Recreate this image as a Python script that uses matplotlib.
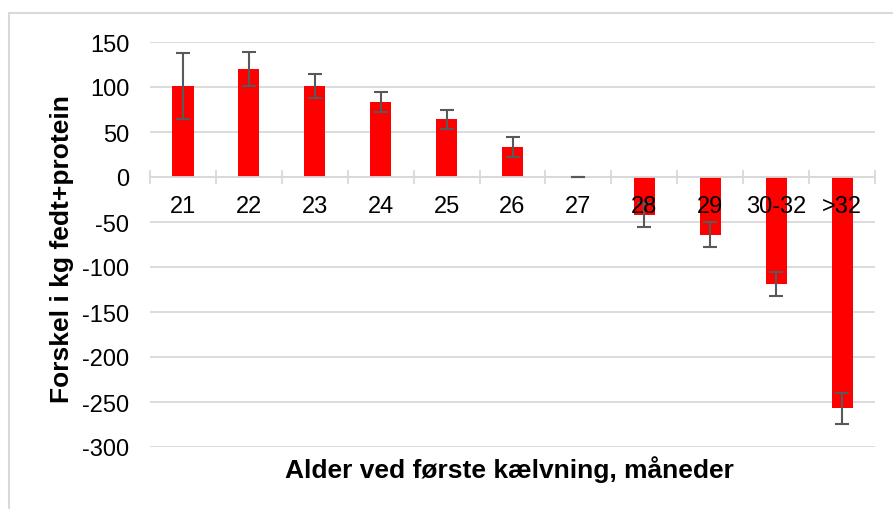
import matplotlib.pyplot as plt
from matplotlib.lines import Line2D
import numpy as np

categories = ["21", "22", "23", "24", "25", "26", "27", "28", "29", "30-32", ">32"]
values = [101, 120, 101, 83, 64, 33, 0, -42, -64, -119, -257]
errors = [37, 19, 13, 11, 11, 11, 0, 13, 14, 13, 17]
y_ticks = [150, 100, 50, 0, -50, -100, -150, -200, -250, -300]

plt.rcParams['font.family'] = ['Liberation Sans', 'DejaVu Sans']

fig = plt.figure(figsize=(8.93, 5.10), dpi=100)
ax = fig.add_axes([150 / 893, 1 - 448 / 510, 725 / 893, 405 / 510])

x = np.arange(len(categories))
ax.bar(x, values, width=0.32, color="#ff0000", zorder=2)
ax.errorbar(x, values, yerr=errors, fmt="none", ecolor="#595959",
            elinewidth=1.5, capsize=5, capthick=1.5, zorder=3)

ax.set_xlim(-0.5, len(categories) - 0.5)
ax.set_ylim(-300, 150)
ax.set_yticks(y_ticks)
ax.set_yticklabels([str(v) for v in y_ticks])
ax.tick_params(axis='y', length=0, pad=15, labelsize=17)

ax.grid(axis='y', color='#d9d9d9', linewidth=1.3)
ax.set_axisbelow(True)
for side in ['top', 'right', 'left']:
    ax.spines[side].set_visible(False)
ax.spines['bottom'].set_position(('data', 0))
ax.spines['bottom'].set_color('#d9d9d9')
ax.spines['bottom'].set_linewidth(1.3)

ax.set_xticks(x)
ax.set_xticklabels([])
ax.set_xticks(np.arange(len(categories) + 1) - 0.5, minor=True)
ax.tick_params(axis='x', which='major', length=0)
ax.tick_params(axis='x', which='minor', direction='inout', length=9.5,
               width=1.3, color='#d9d9d9')

for i, lab in enumerate(categories):
    ax.annotate(lab, xy=(i, 0), xytext=(0, -13), textcoords='offset points',
                ha='center', va='top', fontsize=17, zorder=4)

fig.text(62 / 893, 1 - 249 / 510, "Forskel i kg fedt+protein", rotation=90,
         ha='center', va='center', fontsize=19, fontweight='bold')
fig.text(509 / 893, 1 - 470 / 510, "Alder ved første kælvning, måneder",
         ha='center', va='center', fontsize=19, fontweight='bold')

# chart frame
fig.add_artist(Line2D([9 / 893, 1], [1 - 14 / 510, 1 - 14 / 510],
                      color='#d9d9d9', linewidth=1.5))
fig.add_artist(Line2D([9 / 893, 9 / 893], [0, 1 - 14 / 510],
                      color='#d9d9d9', linewidth=1.5))

fig.savefig("out.png", dpi=100)
